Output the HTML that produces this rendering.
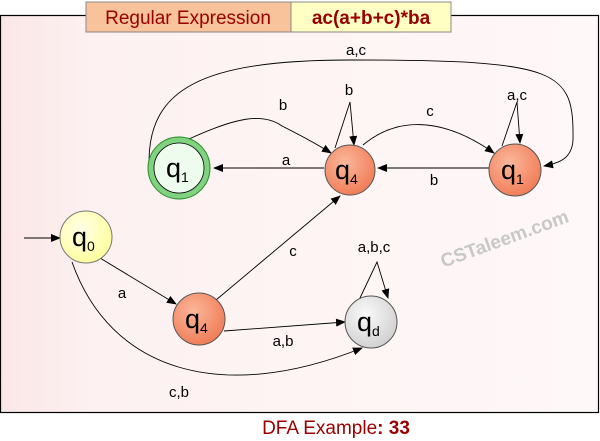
<!DOCTYPE html>
<html><head><meta charset="utf-8"><style>
body{margin:0;width:600px;height:441px;background:#fff;overflow:hidden}
svg{display:block}
text{font-family:"Liberation Sans",sans-serif}
</style></head><body>
<svg width="600" height="441" viewBox="0 0 600 441">
<defs>
<marker id="ar" markerWidth="10" markerHeight="8" refX="9" refY="4" orient="auto" markerUnits="userSpaceOnUse"><path d="M0,0 L10,4 L0,8 z" fill="#000"/></marker>
<linearGradient id="bg" x1="0" x2="1"><stop offset="0" stop-color="#fbe6e6"/><stop offset="0.15" stop-color="#fdf1f1"/><stop offset="1" stop-color="#fff8f8"/></linearGradient>
<radialGradient id="og" cx="0.4" cy="0.35" r="0.7"><stop offset="0" stop-color="#fbb79a"/><stop offset="1" stop-color="#f07a55"/></radialGradient>
<radialGradient id="yg" cx="0.4" cy="0.35" r="0.7"><stop offset="0" stop-color="#ffffe8"/><stop offset="1" stop-color="#ffff99"/></radialGradient>
<radialGradient id="gg" cx="0.4" cy="0.35" r="0.7"><stop offset="0" stop-color="#fafafa"/><stop offset="1" stop-color="#cfcfcf"/></radialGradient>
</defs>
<rect x="0.5" y="15.5" width="598" height="397" fill="url(#bg)" stroke="#000" stroke-width="1.2"/>
<rect x="86" y="2" width="205" height="30" fill="#f8c29a" stroke="#888"/>
<rect x="291" y="2" width="160" height="30" fill="#ffffc4" stroke="#888"/>
<text x="188" y="24" font-size="19" fill="#990000" text-anchor="middle">Regular Expression</text>
<text x="371" y="24" font-size="19" font-weight="bold" fill="#990000" text-anchor="middle">ac(a+b+c)*ba</text>

<text x="505" y="245" font-size="19" font-weight="bold" fill="#c8c8c8" text-anchor="middle" transform="rotate(-20 505 240)">CSTaleem.com</text>

<g fill="none" stroke="#000" stroke-width="0.9">
<path d="M24,238 L60,238" marker-end="url(#ar)"/>
<path d="M100,258 L176,304" marker-end="url(#ar)"/>
<path d="M72,262 C110,370 220,405 362,348" marker-end="url(#ar)"/>
<path d="M224,331 L345,322" marker-end="url(#ar)"/>
<path d="M216,300 L340,196" marker-end="url(#ar)"/>
<path d="M360,298 L377,262 L388,298" marker-end="url(#ar)"/>
<path d="M189,139 C235,118 262,112 282,126 C300,135 315,143 331,153" marker-end="url(#ar)"/>
<path d="M324,168 L214,168" marker-end="url(#ar)"/>
<path d="M335,148 L350,102 L354,145" marker-end="url(#ar)"/>
<path d="M363,145 C395,118 440,115 494,153" marker-end="url(#ar)"/>
<path d="M490,168 L378,168" marker-end="url(#ar)"/>
<path d="M502,146 L517,102 L520,143" marker-end="url(#ar)"/>
<path d="M149,160 C150,90 200,60 350,60 C560,60 574,70 573,140 C572,158 560,163 544,166" marker-end="url(#ar)"/>
</g>

<circle cx="179" cy="168" r="31" fill="#7fd27f" stroke="#2a8a2a"/>
<circle cx="179" cy="168" r="25" fill="#eefcee" stroke="#000" stroke-width="0.8"/>
<circle cx="350" cy="170" r="25" fill="url(#og)" stroke="#555"/>
<circle cx="515" cy="170" r="26" fill="url(#og)" stroke="#555"/>
<circle cx="86" cy="237" r="26" fill="url(#yg)" stroke="#777"/>
<circle cx="199" cy="319" r="26" fill="url(#og)" stroke="#555"/>
<circle cx="371" cy="322" r="26" fill="url(#gg)" stroke="#555"/>

<g font-size="27" fill="#000">
<text x="166" y="177">q<tspan font-size="14" dy="5">1</tspan></text>
<text x="335" y="179">q<tspan font-size="14" dy="5">4</tspan></text>
<text x="501" y="179">q<tspan font-size="14" dy="5">1</tspan></text>
<text x="72" y="246">q<tspan font-size="14" dy="5">0</tspan></text>
<text x="185" y="328">q<tspan font-size="14" dy="5">4</tspan></text>
<text x="357" y="331">q<tspan font-size="14" dy="5">d</tspan></text>
</g>
<g font-size="15" fill="#000" text-anchor="middle">
<text x="356" y="55">a,c</text>
<text x="283" y="110">b</text>
<text x="349" y="95">b</text>
<text x="430" y="116">c</text>
<text x="517" y="100">a,c</text>
<text x="286" y="165">a</text>
<text x="434" y="185">b</text>
<text x="293" y="256">c</text>
<text x="374" y="252">a,b,c</text>
<text x="122" y="298">a</text>
<text x="283" y="346">a,b</text>
<text x="179" y="397">c,b</text>
</g>
<text x="336" y="434" font-size="19" fill="#990000" text-anchor="middle">DFA Example<tspan font-weight="bold">: 33</tspan></text>
</svg>
</body></html>
